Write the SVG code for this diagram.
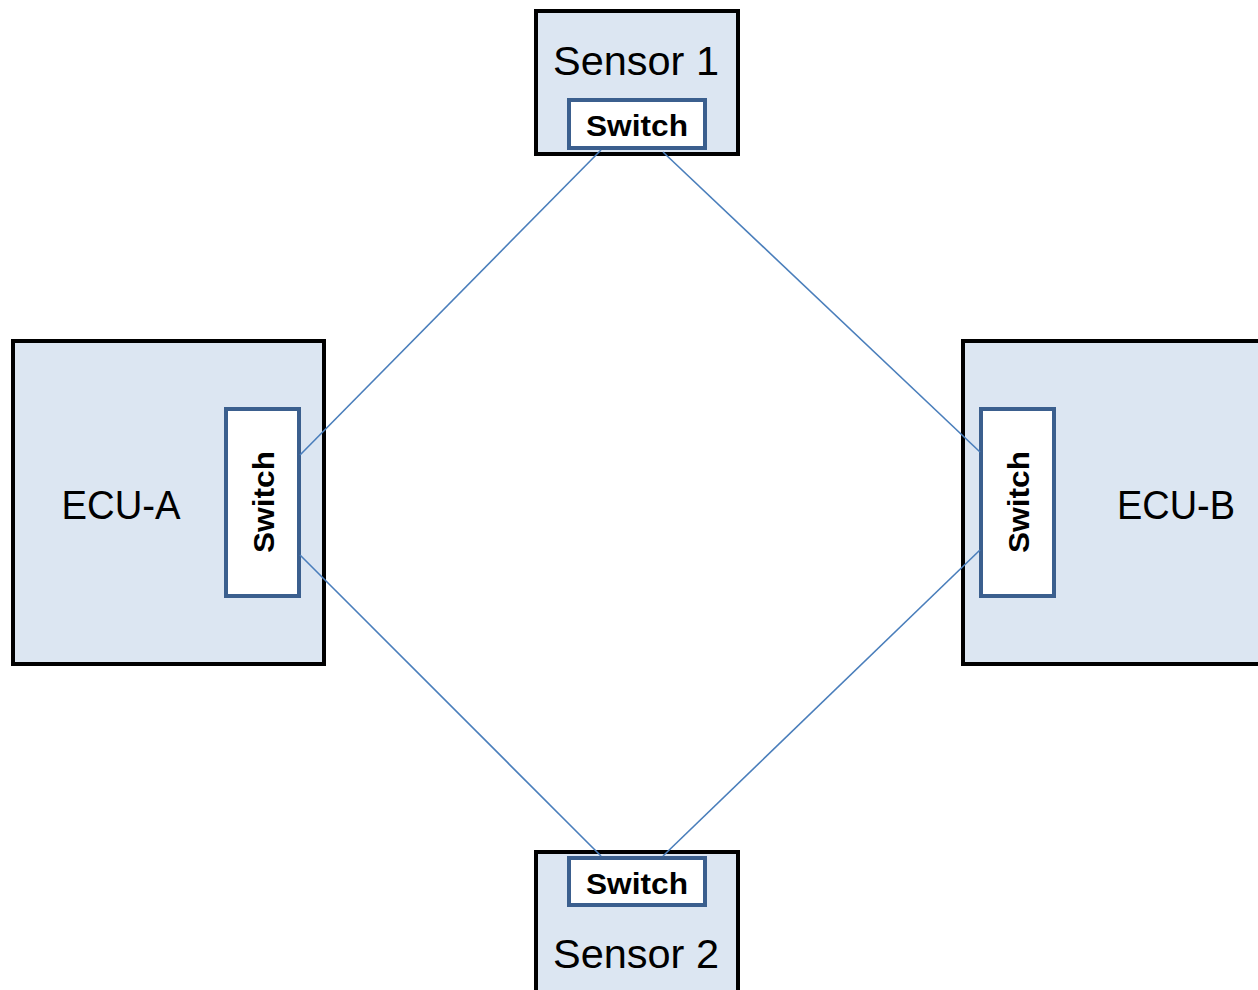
<svg xmlns="http://www.w3.org/2000/svg" width="1258" height="990" viewBox="0 0 1258 990">
<style>
.outer{fill:#dce6f2;stroke:#000;stroke-width:4}
.sw{fill:#fff;stroke:#3b5f8e;stroke-width:4}
.lbl{font-family:"Liberation Sans",Arial,sans-serif;font-size:41px;fill:#000;text-anchor:middle}
.swt{font-family:"Liberation Sans",Arial,sans-serif;font-size:30px;font-weight:bold;fill:#000;text-anchor:middle}
.con{stroke:#4a7ebb;stroke-width:1.6;fill:none}
</style>
<rect width="1258" height="990" fill="#fff"/>
<g id="sensor1">
<rect class="outer" x="536" y="11" width="202" height="143"/>
<text class="lbl" x="636" y="75" textLength="166" lengthAdjust="spacingAndGlyphs">Sensor 1</text>
<rect class="sw" x="569" y="100" width="136" height="48"/>
<text class="swt" x="637" y="136" textLength="102" lengthAdjust="spacingAndGlyphs">Switch</text>
</g>
<g id="ecu-a">
<rect class="outer" x="13" y="341" width="311" height="323"/>
<text class="lbl" x="121" y="519" textLength="119" lengthAdjust="spacingAndGlyphs">ECU-A</text>
<rect class="sw" x="226" y="409" width="73" height="187"/>
<text class="swt" transform="translate(274,502) rotate(-90)" textLength="102" lengthAdjust="spacingAndGlyphs">Switch</text>
</g>
<g id="ecu-b">
<rect class="outer" x="963" y="341" width="300" height="323"/>
<text class="lbl" x="1176" y="519" textLength="118" lengthAdjust="spacingAndGlyphs">ECU-B</text>
<rect class="sw" x="981" y="409" width="73" height="187"/>
<text class="swt" transform="translate(1029,502) rotate(-90)" textLength="102" lengthAdjust="spacingAndGlyphs">Switch</text>
</g>
<g id="sensor2">
<rect class="outer" x="536" y="852" width="202" height="150"/>
<rect class="sw" x="569" y="858" width="136" height="47"/>
<text class="swt" x="637" y="894" textLength="102" lengthAdjust="spacingAndGlyphs">Switch</text>
<text class="lbl" x="636" y="968" textLength="166" lengthAdjust="spacingAndGlyphs">Sensor 2</text>
</g>
<g id="connectors">
<line class="con" x1="601" y1="150" x2="300" y2="455"/>
<line class="con" x1="663" y1="152" x2="980" y2="452"/>
<line class="con" x1="300" y1="555" x2="601" y2="856"/>
<line class="con" x1="980" y1="550" x2="663" y2="856"/>
</g>
</svg>
